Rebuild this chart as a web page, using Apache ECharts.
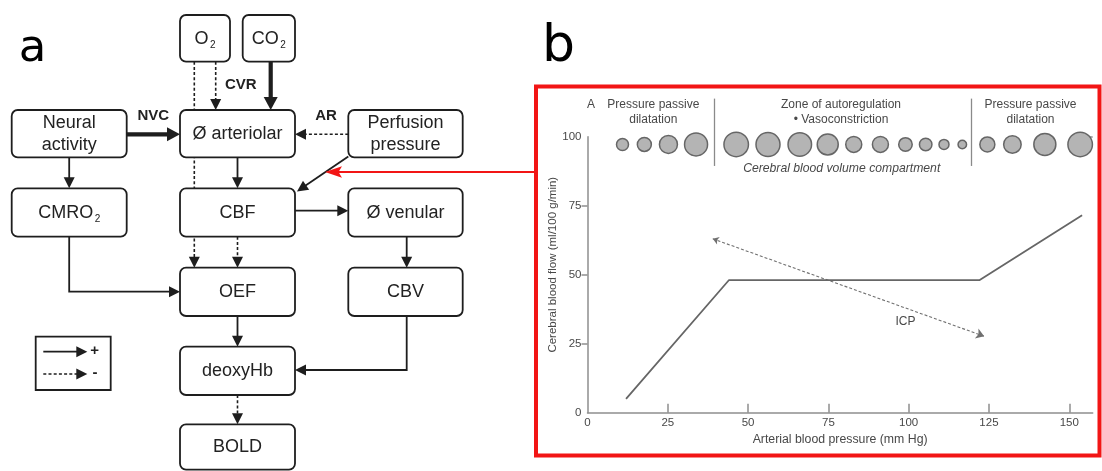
<!DOCTYPE html>
<html><head><meta charset="utf-8">
<script src="https://cdn.jsdelivr.net/npm/echarts@6/dist/echarts.min.js"></script>
<style>html,body{margin:0;padding:0;background:#fff;overflow:hidden}#c{width:1102px;height:471px}</style>
</head><body><div id="c"></div>
<script>
// ================= Panel b data =================
const xTickLabels = [0, 25, 50, 75, 100, 125, 150];
const yTickLabels = [0, 25, 50, 75, 100];
const cbfCurve = [[12, 5], [44, 48], [122, 48], [154, 71.5]];      // CBF vs arterial pressure
const icpArrow = [[39, 63], [123.5, 27.7]];                         // ICP dashed double arrow
const vesselX = [10.9, 17.7, 25.2, 33.8, 46.3, 56.2, 66.1, 74.8, 82.9, 91.2, 99.0, 105.3, 111.0, 116.7, 124.5, 132.3, 142.4, 153.4];
const vesselDiam = [12, 14, 18, 23, 24.5, 24, 23.5, 21, 16, 16, 13.5, 12.5, 10, 8.5, 15, 17.5, 22, 24.5];
const vesselLevel = 97.2;
const zoneBounds = [39.4, 119.5];
const zoneSpan = [89.4, 113.8];

// ================= Panel a data =================
const nodeText = ['O', 'CO', 'Neural\nactivity', 'Ø arteriolar', 'Perfusion\npressure', 'CMRO', 'CBF', 'Ø venular', 'OEF', 'CBV', 'deoxyHb', 'BOLD'];
const nodeSub  = ['2', '2', '', '', '', '2', '', '', '', '', '', ''];
// layout of nodes in diagram units [left, top, width, height]
const nodeLayout = [
  [180, 15, 50, 46.7], [242.7, 15, 52.3, 46.7],
  [11.7, 110, 115, 47.3], [180, 110, 115, 47.3], [348.3, 110, 114.4, 47.3],
  [11.7, 188.3, 115, 48.4], [180, 188.3, 115, 48.4], [348.3, 188.3, 114.4, 48.4],
  [180, 267.7, 115, 48.3], [348.3, 267.7, 114.4, 48.3],
  [180, 346.7, 115, 48.3], [180, 424.3, 115, 45.3]
];
// connectors: route points in diagram units, kind
const edgeRoutes = [
  [[215.7, 61.7], [215.7, 110]],
  [[194.3, 61.7], [194.3, 267.7]],
  [[270.7, 61.7], [270.7, 110]],
  [[126.7, 134.3], [180, 134.3]],
  [[348.3, 134.3], [295, 134.3]],
  [[348.3, 156.5], [297, 191.5]],
  [[237.5, 157.3], [237.5, 188.3]],
  [[69.2, 157.3], [69.2, 188.3]],
  [[295, 210.7], [348.3, 210.7]],
  [[69.2, 236.7], [69.2, 291.7], [180, 291.7]],
  [[237.5, 236.7], [237.5, 267.7]],
  [[406.7, 236.7], [406.7, 267.7]],
  [[237.5, 316], [237.5, 346.7]],
  [[406.7, 316], [406.7, 370], [295, 370]],
  [[237.5, 395], [237.5, 424.3]],
  [[43.3, 351.7], [87.3, 351.7]],
  [[43.3, 374], [87.3, 374]]
];
const edgeKind = ['dashed', 'dashed', 'thick', 'thick', 'dashed', 'solid', 'solid', 'solid', 'solid', 'solid', 'dashed', 'solid', 'solid', 'solid', 'dashed', 'solid', 'dashed'];
const edgeLabels = [['CVR', 240.8, 85], ['NVC', 153.3, 116], ['AR', 326, 116], ['+', 94.7, 350.5], ['-', 95, 372.5]];
const legendBox = [35.7, 336.7, 75, 53.3];

// ================= styles =================
const FONT = 'Liberation Sans, Arial, Helvetica, sans-serif';
const TXT_B = '#484848';
const AXIS_C = '#8e8e8e';
const INK = '#1e1e1e';
const EDGE_STYLE = {
  solid:  {w: 1.8, dash: null, al: 11, hw: 5.5},
  dashed: {w: 1.6, dash: [3, 2.2], al: 11, hw: 5.5},
  thick:  {w: 4.2, dash: null, al: 13, hw: 7}
};
const mctx = document.createElement('canvas').getContext('2d');
function measure(t, font) { mctx.font = font; return mctx.measureText(t).width; }

function renderEdge(params, api) {
  const idx = api.value(2);
  const st = EDGE_STYLE[edgeKind[idx]];
  const pts = edgeRoutes[idx].map(p => api.coord(p));
  const n = pts.length;
  const [x1, y1] = pts[n - 2], [x2, y2] = pts[n - 1];
  const d = Math.hypot(x2 - x1, y2 - y1), ux = (x2 - x1) / d, uy = (y2 - y1) / d;
  const bx = x2 - ux * st.al, by = y2 - uy * st.al;
  const linePts = pts.slice(0, n - 1).concat([[bx + ux * 1, by + uy * 1]]);
  return {type: 'group', children: [
    {type: 'polyline', shape: {points: linePts}, style: {stroke: INK, lineWidth: st.w, lineDash: st.dash, fill: null}},
    {type: 'polygon', shape: {points: [[x2, y2], [bx - uy * st.hw, by + ux * st.hw], [bx + uy * st.hw, by - ux * st.hw]]}, style: {fill: INK}}
  ]};
}
function renderBox(params, api) {
  const i = api.value(2);
  const b = nodeLayout[i];
  const p0 = api.coord([b[0], b[1]]), p1 = api.coord([b[0] + b[2], b[1] + b[3]]);
  const cx = (p0[0] + p1[0]) / 2, cy = (p0[1] + p1[1]) / 2;
  const ch = [{type: 'rect', shape: {x: p0[0], y: p0[1], width: p1[0] - p0[0], height: p1[1] - p0[1], r: 6},
    style: {fill: '#fff', stroke: INK, lineWidth: 1.8}}];
  const main = nodeText[i], sub = nodeSub[i];
  const fm = '18px ' + FONT, fs = '10px ' + FONT;
  if (!sub) {
    ch.push({type: 'text', style: {text: main, x: cx, y: cy + 0.5, align: 'center', verticalAlign: 'middle', font: fm, fill: '#222', lineHeight: 21.6}});
  } else {
    const wm = measure(main, fm), ws = measure(sub, fs);
    const left = cx - (wm + ws + 1.5) / 2;
    ch.push({type: 'text', style: {text: main, x: left, y: cy + 0.5, align: 'left', verticalAlign: 'middle', font: fm, fill: '#222'}});
    ch.push({type: 'text', style: {text: sub, x: left + wm + 1.5, y: cy + 6.5, align: 'left', verticalAlign: 'middle', font: fs, fill: '#222'}});
  }
  return {type: 'group', children: ch};
}
function renderLegendBox(params, api) {
  const b = legendBox;
  const p0 = api.coord([b[0], b[1]]), p1 = api.coord([b[0] + b[2], b[1] + b[3]]);
  return {type: 'rect', shape: {x: p0[0], y: p0[1], width: p1[0] - p0[0], height: p1[1] - p0[1]}, style: {fill: 'none', stroke: INK, lineWidth: 1.8}};
}
function renderLabel(params, api) {
  const l = edgeLabels[api.value(2)];
  const p = api.coord([l[1], l[2]]);
  return {type: 'text', style: {text: l[0], x: p[0], y: p[1], align: 'center', verticalAlign: 'middle', font: 'bold 15px ' + FONT, fill: '#222'}};
}

const chart = echarts.init(document.getElementById('c'), null, {renderer: 'canvas', width: 1102, height: 471});
const axisText = {color: TXT_B, fontSize: 11.5, fontFamily: FONT};
function hdr(x, y, text, extra) {
  return Object.assign({type: 'text', x: x, y: y, style: {text: text, font: '12px ' + FONT, fill: TXT_B, align: 'center', verticalAlign: 'middle', lineHeight: 15}}, extra || {});
}

const option = {
  animation: false,
  backgroundColor: '#fff',
  grid: [
    {left: 587.5, top: 136.7, width: 505.2, height: 276},
    {left: 0, top: 0, width: 520, height: 471}
  ],
  xAxis: [
    {gridIndex: 0, type: 'value', min: 0, max: 157.3,
      axisLine: {show: true, onZero: false, lineStyle: {color: AXIS_C, width: 1.5}},
      axisTick: {show: true, inside: true, length: 9, customValues: [25, 50, 75, 100, 125, 150], lineStyle: {color: AXIS_C, width: 1.5}},
      axisLabel: Object.assign({customValues: xTickLabels, margin: 4}, axisText),
      splitLine: {show: false},
      name: 'Arterial blood pressure (mm Hg)', nameLocation: 'middle', nameGap: 21,
      nameTextStyle: {color: TXT_B, fontSize: 12.3, fontFamily: FONT}},
    {gridIndex: 1, type: 'value', min: 0, max: 520, show: false}
  ],
  yAxis: [
    {gridIndex: 0, type: 'value', min: 0, max: 100,
      axisLine: {show: true, lineStyle: {color: AXIS_C, width: 1.5}},
      axisTick: {show: true, length: 6, customValues: [25, 50, 75], lineStyle: {color: AXIS_C, width: 1.5}},
      axisLabel: Object.assign({customValues: yTickLabels, margin: 6}, axisText),
      splitLine: {show: false},
      name: 'Cerebral blood flow (ml/100 g/min)', nameLocation: 'middle', nameGap: 27,
      nameTextStyle: {color: TXT_B, fontSize: 11.5, fontFamily: FONT, padding: [0, 0, 0, 20]}},
    {gridIndex: 0, type: 'value', min: 0, max: 100,
      axisLine: {show: false},
      axisTick: {show: true, inside: true, length: 7, customValues: [100], lineStyle: {color: AXIS_C, width: 1.5}},
      axisLabel: {show: false}, splitLine: {show: false}},
    {gridIndex: 1, type: 'value', min: 0, max: 471, inverse: true, show: false}
  ],
  series: [
    {type: 'line', xAxisIndex: 0, yAxisIndex: 0, data: cbfCurve, symbol: 'none', silent: true,
      lineStyle: {color: '#666', width: 1.8}},
    {type: 'lines', coordinateSystem: 'cartesian2d', xAxisIndex: 0, yAxisIndex: 0, silent: true, clip: false,
      data: [{coords: icpArrow}], symbol: ['arrow', 'arrow'], symbolSize: [6, 8],
      lineStyle: {color: '#707070', width: 1.1, type: [3, 2], opacity: 1}},
    {type: 'lines', coordinateSystem: 'cartesian2d', xAxisIndex: 0, yAxisIndex: 0, silent: true, clip: false,
      data: zoneBounds.map(x => ({coords: [[x, zoneSpan[1]], [x, zoneSpan[0]]]})),
      lineStyle: {color: '#8a8a8a', width: 1.3, opacity: 1}},
    {type: 'scatter', xAxisIndex: 0, yAxisIndex: 0, silent: true, clip: false,
      data: vesselX.map((x, i) => [x, vesselLevel, vesselDiam[i]]),
      symbolSize: v => v[2],
      itemStyle: {color: '#b4b4b4', borderColor: '#666', borderWidth: 1.5, opacity: 1}},
    {type: 'custom', xAxisIndex: 1, yAxisIndex: 2, silent: true, z: 2,
      data: edgeRoutes.map((r, i) => [r[0][0], r[0][1], i]), renderItem: renderEdge},
    {type: 'custom', xAxisIndex: 1, yAxisIndex: 2, silent: true, z: 3,
      data: nodeLayout.map((b, i) => [b[0], b[1], i]), renderItem: renderBox},
    {type: 'custom', xAxisIndex: 1, yAxisIndex: 2, silent: true, z: 3,
      data: [[legendBox[0], legendBox[1], 0]], renderItem: renderLegendBox},
    {type: 'custom', xAxisIndex: 1, yAxisIndex: 2, silent: true, z: 4,
      data: edgeLabels.map((l, i) => [l[1], l[2], i]), renderItem: renderLabel}
  ],
  graphic: [
    {type: 'text', x: 32.5, y: 49.5, style: {text: 'a', font: '45px DejaVu Sans', fill: '#000', align: 'center', verticalAlign: 'middle'}},
    {type: 'text', x: 558.5, y: 47, style: {text: 'b', font: '52px DejaVu Sans', fill: '#000', align: 'center', verticalAlign: 'middle'}},
    {type: 'rect', shape: {x: 536, y: 86.5, width: 563.5, height: 369}, style: {fill: 'none', stroke: '#f21515', lineWidth: 4}, z: 10},
    {type: 'line', shape: {x1: 536, y1: 172, x2: 338, y2: 172}, style: {stroke: '#f21515', lineWidth: 2}, z: 10},
    {type: 'polygon', shape: {points: [[325, 172], [342, 166.3], [338.5, 172], [342, 177.7]]}, style: {fill: '#f21515'}, z: 10},
    hdr(591, 105, 'A'),
    hdr(653.3, 112.5, 'Pressure passive\ndilatation'),
    hdr(841, 112.5, 'Zone of autoregulation\n• Vasoconstriction'),
    hdr(1030.5, 112.5, 'Pressure passive\ndilatation'),
    {type: 'text', x: 841.7, y: 168.3, style: {text: 'Cerebral blood volume compartment', font: 'italic 12.2px ' + FONT, fill: TXT_B, align: 'center', verticalAlign: 'middle'}},
    hdr(905.5, 321.7, 'ICP')
  ]
};
chart.setOption(option);
</script>
</body></html>
